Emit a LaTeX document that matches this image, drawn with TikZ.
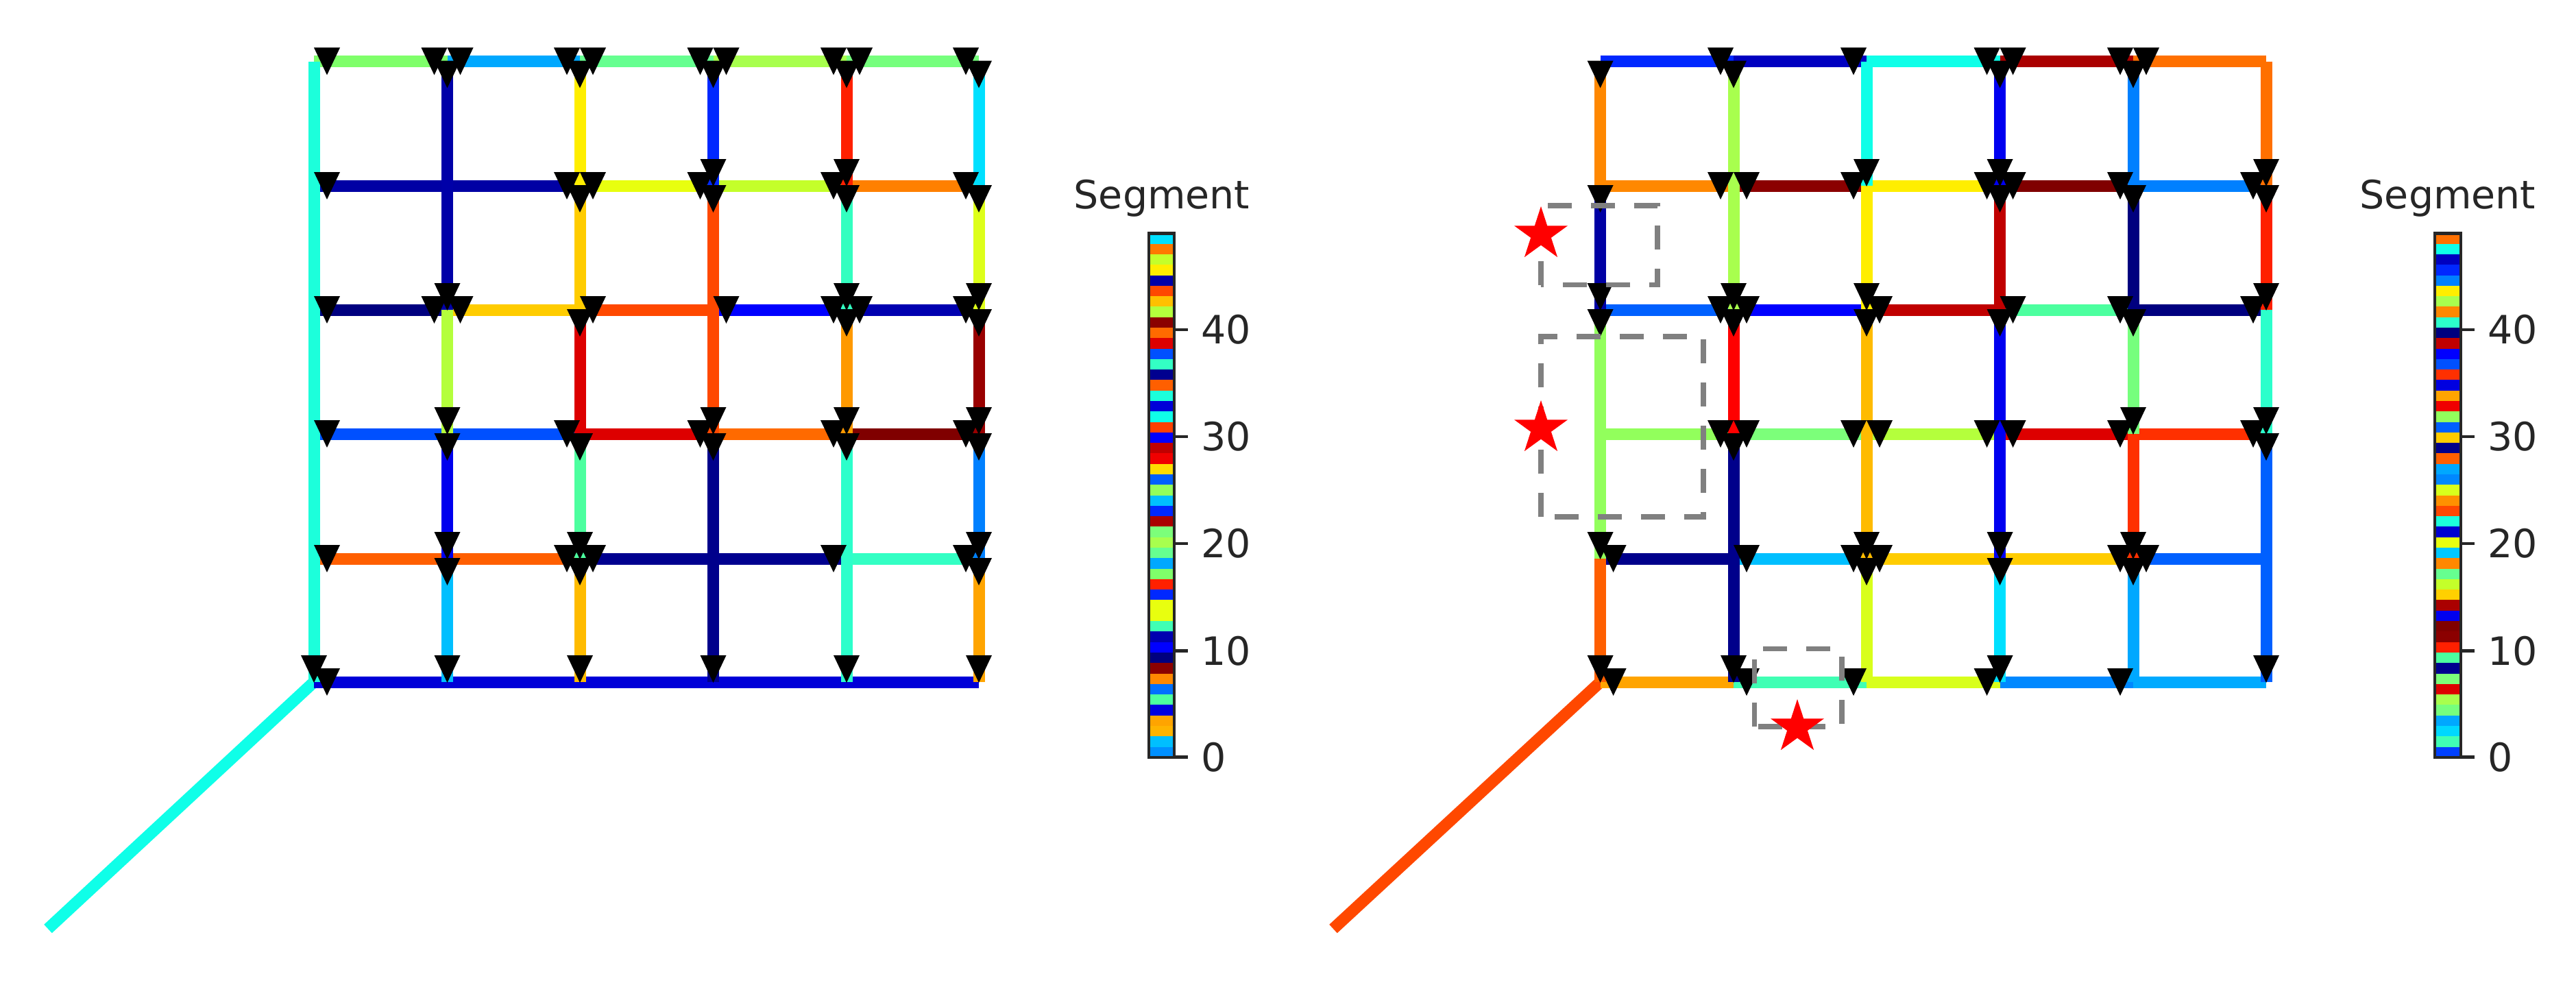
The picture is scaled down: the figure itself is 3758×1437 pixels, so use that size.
\documentclass[tikz,border=0pt]{standalone}
\usepackage{fontspec}
\setmainfont{DejaVu Sans}
\usetikzlibrary{calc,shapes.geometric}
\definecolor{txt}{HTML}{262626}
\tikzset{
  segline/.style={line width=17pt,line cap=butt},
  marktri/.style={fill=black},
  dashbox/.style={draw=gray!100,line width=7.5pt,dash pattern=on 35pt off 28pt},
  redstar/.style={star,star points=5,star point ratio=2.618,fill=red,inner sep=0pt,minimum size=82pt},
  cbframe/.style={draw=black!85,line width=4.5pt},
  cbtick/.style={draw=txt,line width=4.5pt},
  lab/.style={text=txt,inner sep=0pt,font=\fontsize{57}{68}\selectfont}
}
\def\leftsegs{%
00/10/7FFF6A/1/1,10/20/00A8FF/1/1,20/30/66FF90/1/1,30/40/A8FF4E/1/1,40/50/76FF7D/1/1,
01/21/0000A4/1/1,21/31/E8FF0F/1/1,31/41/C4FF2A/0/1,41/51/FF8000/0/1,
02/12/00007F/1/1,12/22/FFCC00/1/0,22/32/FF4800/1/0,32/42/0000FF/1/1,42/52/0000B0/1/1,
03/23/0050FF/1/1,23/33/DD0000/0/1,33/43/FF6A00/0/1,43/53/800000/0/1,
04/24/FF5F00/1/1,24/44/00008F/1/1,44/54/33FFC4/0/1,
05/55/0000D8/1/0,
00/05/1CFFDB/0/1,
10/12/0000A8/1/1,12/13/B4FF3C/0/1,13/14/0000EE/1/1,14/15/00BFFF/1/1,
20/21/FFEE00/1/0,21/22/FFCC00/1/0,22/23/DD0000/1/0,23/24/4CFF9F/1/1,24/25/FFBB00/1/1,
30/31/0028FF/1/1,31/33/FF4800/1/1,33/35/00008B/1/1,
40/41/FF2000/1/1,41/42/33FFC0/1/1,42/43/FF9900/1/1,43/45/2CFFCB/1/1,
50/51/00E0FF/1/0,51/52/DDFF1A/1/1,52/53/990000/1/1,53/54/0080FF/1/1,54/55/FFA400/1/1}
\def\rightsegs{%
00/10/0028FF/0/1,10/20/0000C0/0/1,20/30/0FFFE8/0/1,30/40/AA0000/1/1,40/50/FF7000/1/0,
01/11/FF8800/0/1,11/21/8B0000/1/1,21/31/FFEE00/0/1,31/41/800000/1/1,41/51/0080FF/0/1,
02/12/0060FF/0/1,12/22/0000FF/1/0,22/32/C00000/1/0,32/42/4CFF9F/1/1,42/52/00007F/0/1,
03/13/92FF5C/0/1,13/23/7CFF7A/1/1,23/33/B4FF3C/1/1,33/43/DD0000/1/1,43/53/FF3000/0/1,
04/14/00008B/1/0,14/24/00BFFF/1/1,24/44/FFCC00/1/1,44/54/0060FF/1/0,
05/15/FFA400/1/0,15/25/40FFB4/1/1,25/35/D8FF1C/0/1,35/45/0088FF/0/1,45/55/00AAFF/0/0,
00/01/FF8800/1/0,01/02/0000A4/1/1,02/04/92FF5C/1/1,04/05/FF5F00/0/1,
10/12/A8FF4E/1/1,12/13/FF0000/1/0,13/15/00008B/1/1,
20/21/0FFFE8/0/1,21/22/FFEE00/0/1,22/24/FFBB00/1/1,24/25/D8FF1C/1/0,
30/31/0000F0/1/1,31/32/C00000/1/0,32/34/0000F0/1/1,34/35/00E0FF/1/1,
40/41/0080FF/1/0,41/42/00007F/1/0,42/43/76FF7D/1/1,43/44/FF3000/0/1,44/45/00A8FF/1/0,
50/51/FF7000/0/1,51/52/FF2000/1/1,52/53/2CFFCB/0/1,53/55/0060FF/1/1}
\newcommand{\drawsegs}[2]{%
  \foreach \pa/\pb/\cc/\fs/\fe in #2 {%
    \definecolor{segc}{HTML}{\cc}%
    \draw[segline,draw=segc] (#1\pa) -- (#1\pb);
  }}
\newcommand{\drawmarks}[2]{%
  \foreach \pa/\pb/\cc/\fs/\fe in #2 {%
    \ifnum\fs=1 \fill[marktri] ($(#1\pa)!19pt!(#1\pb)$) ++(-19,-20) -- ++(38,0) -- ++(-19,40) -- cycle;\fi
    \ifnum\fe=1 \fill[marktri] ($(#1\pb)!19pt!(#1\pa)$) ++(-19,-20) -- ++(38,0) -- ++(-19,40) -- cycle;\fi
  }}
\newcommand{\colbar}[4]{% name, left x, right x, colours
  \foreach \cc [count=\i from 0] in {#4} {%
    \definecolor{segc}{HTML}{\cc}%
    \fill[segc] (#2,{340.4+\i*15.288}) rectangle (#3,{340.4+(\i+1)*15.288+0.4});
  }
  \draw[cbframe] (#2,340.4) rectangle (#3,1104.8);
  \foreach \v/\yy in {0/1104.5,10/949.5,20/793,30/637,40/481} {%
    \coordinate (#1a\v) at (#3,\yy);
    \coordinate (#1b\v) at ({#3+20},\yy);
    \draw[cbtick] (#1a\v) -- (#1b\v);
    \node[lab,anchor=west] (#1l\v) at ({#3+39},\yy) {\v};
  }}
\begin{document}
\begin{tikzpicture}[x=1pt,y=-1pt]
\useasboundingbox (0,0) rectangle (3758,1437);
\fill[white] (0,0) rectangle (3758,1437);
% grids
\foreach \x [count=\c from 0] in {458,652.5,846,1040.5,1235,1428}
  \foreach \y [count=\r from 0] in {89.5,271,452,633,815,995}
    \coordinate (L\c\r) at (\x,\y);
\foreach \x [count=\c from 0] in {2334.6,2529,2723,2917.6,3112,3306}
  \foreach \y [count=\r from 0] in {89.5,271,452,633,815,995}
    \coordinate (R\c\r) at (\x,\y);
\coordinate (Lfar) at (70,1355);
\coordinate (Rfar) at (1945,1355);
\definecolor{diagl}{HTML}{0FFFE8}
\definecolor{diagr}{HTML}{FF4800}
\draw[segline,draw=diagl] (Lfar) -- (L05);
\draw[segline,draw=diagr] (Rfar) -- (R05);
\drawsegs{L}{\leftsegs}
\drawsegs{R}{\rightsegs}
\drawmarks{L}{\leftsegs}
\drawmarks{R}{\rightsegs}
% dashed boxes
\draw[dashbox] (2248,415.6) -- (2248,300) -- (2418,300) -- (2418,415.6) -- cycle;
\draw[dashbox] (2248,754) -- (2248,491) -- (2485,491) -- (2485,754) -- cycle;
\draw[dashbox] (2559.5,1060) -- (2559.5,946.7) -- (2686.8,946.7) -- (2686.8,1060) -- cycle;
% stars
\node[redstar] (s1) at (2248,342) {};
\node[redstar] (s2) at (2248,625) {};
\node[redstar] (s3) at (2622,1061) {};
% colour bars
\colbar{A}{1676}{1713}{00E0FF,FF7A00,C4FF2A,FFEE00,0000A8,FF4800,FFC000,B4FF3C,8B0000,FF6A00,DD0000,0050FF,33FFC4,00008F,FF5F00,1CFFDB,0000D8,0FFFE8,FF4000,0000FF,C00000,F00000,FFDD00,0060FF,92FF5C,00BFFF,0028FF,AA0000,7CFF7A,A8FF4E,66FF90,00A8FF,7FFF6A,FF2000,0028FF,E8FF0F,E8FF0F,40FFB4,0000B0,0000FF,00007F,8B0000,FF8800,0070FF,4CFF9F,0000E0,FFA400,FFB400,00BFFF,0090FF}
\colbar{B}{3552}{3590}{FF7000,0FFFE8,0000C0,0028FF,0080FF,FFEE00,A8FF4E,FF8800,2CFFCB,00007F,C00000,0000FF,0050FF,FF3000,0000E0,FFA400,F00000,92FF5C,0060FF,FFCC00,00008B,FF5F00,00A8FF,0088FF,D8FF1C,FF9000,FF4800,1CFFDB,0000D0,E8FF0F,00C8FF,FF8800,66FF90,C4FF2A,FFD000,AA0000,0000F0,800000,8B0000,FF2000,4CFF9F,00008F,7CFF7A,DD0000,A8FF4E,76FF7D,00A8FF,00D8FF,40FFB4,0040FF}
\node[lab,anchor=base] (t1) at (1695,304) {Segment};
\node[lab,anchor=base] (t2) at (3571,304) {Segment};
\end{tikzpicture}
\end{document}
